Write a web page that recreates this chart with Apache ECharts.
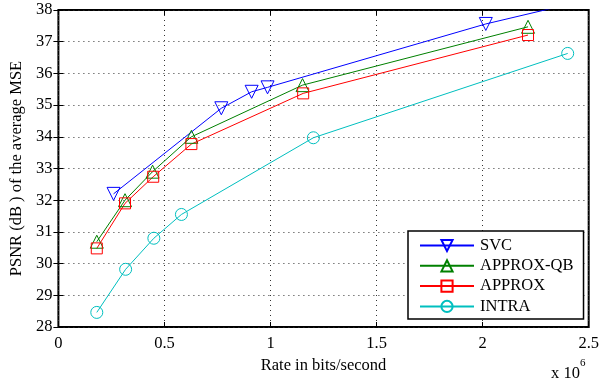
<!DOCTYPE html>
<html>
<head>
<meta charset="utf-8">
<script src="https://cdn.jsdelivr.net/npm/echarts@6/dist/echarts.min.js"></script>
<style>html,body{margin:0;padding:0;background:#fff}#c{width:602px;height:381px}</style>
</head>
<body>
<div id="c"></div>
<script>
const seriesNames = ['SVC', 'APPROX-QB', 'APPROX', 'INTRA'];
const svcX = [0.26e6, 0.768e6, 0.911e6, 0.986e6, 2.015e6, 2.4e6];
const svcY = [32.2, 34.9, 35.42, 35.56, 37.56, 38.17];
const qbX = [0.181e6, 0.314e6, 0.444e6, 0.627e6, 1.151e6, 2.214e6];
const qbY = [30.69, 32.0, 32.9, 34.0, 35.63, 37.47];
const apX = [0.181e6, 0.314e6, 0.447e6, 0.627e6, 1.154e6, 2.214e6];
const apY = [30.48, 31.9, 32.74, 33.77, 35.37, 37.21];
const inX = [0.181e6, 0.317e6, 0.45e6, 0.58e6, 1.202e6, 2.401e6];
const inY = [28.46, 29.82, 30.8, 31.55, 33.97, 36.63];
const xTicks = [0, 0.5, 1, 1.5, 2, 2.5];
const yTicks = [28, 29, 30, 31, 32, 33, 34, 35, 36, 37, 38];

const font = 'Liberation Serif';
const fs = 16.5;
const chart = echarts.init(document.getElementById('c'), null, {renderer: 'canvas'});
const zip = (xs, ys) => xs.map((x, i) => [x, ys[i]]);
function mk(name, xs, ys, color, symbol, size, rotate) {
  return {
    name, type: 'line', data: zip(xs, ys), symbol, symbolSize: size, symbolRotate: rotate || 0,
    clip: true, showAllSymbol: true,
    lineStyle: {color, width: 1},
    itemStyle: {color: 'rgba(255,255,255,0)', borderColor: color, borderWidth: 1},
    emphasis: {disabled: true}, animation: false
  };
}
const gridLine = {show: true, lineStyle: {color: '#333', type: [1, 4], width: 1}};
chart.setOption({
  animation: false,
  backgroundColor: '#fff',
  grid: {left: 58, right: 11, top: 10, bottom: 54, show: true, borderColor: '#000', borderWidth: 2, backgroundColor: 'transparent'},
  xAxis: [{
    type: 'value', min: 0, max: 2.5e6, interval: 0.5e6,
    axisLine: {show: false}, axisTick: {show: true, inside: true, length: 5, lineStyle: {color: '#000'}},
    axisLabel: {color: '#000', fontFamily: font, fontSize: fs, margin: 8,
      formatter: v => String(xTicks[Math.round(v / 0.5e6)])},
    splitLine: gridLine,
    name: 'Rate in bits/second', nameLocation: 'middle', nameGap: 30,
    nameTextStyle: {color: '#000', fontFamily: font, fontSize: fs}
  }, {
    type: 'value', position: 'top', min: 0, max: 2.5e6, interval: 0.5e6,
    axisLine: {show: false}, axisTick: {show: true, inside: true, length: 5, lineStyle: {color: '#000'}},
    axisLabel: {show: false}, splitLine: {show: false}
  }],
  yAxis: [{
    type: 'value', min: 28, max: 38, interval: 1,
    axisLine: {show: false}, axisTick: {show: true, inside: true, length: 5, lineStyle: {color: '#000'}},
    axisLabel: {color: '#000', fontFamily: font, fontSize: fs, margin: 6,
      formatter: v => String(yTicks[Math.round(v - 28)])},
    splitLine: gridLine,
    name: 'PSNR (dB ) of the average MSE', nameLocation: 'middle', nameGap: 31, nameRotate: 90,
    nameTextStyle: {color: '#000', fontFamily: font, fontSize: fs}
  }, {
    type: 'value', position: 'right', min: 28, max: 38, interval: 1,
    axisLine: {show: false}, axisTick: {show: true, inside: true, length: 5, lineStyle: {color: '#000'}},
    axisLabel: {show: false}, splitLine: {show: false}
  }],
  legend: {
    data: seriesNames, orient: 'vertical', left: 408, top: 231,
    padding: [6, 10, 4, 11], itemGap: 3.3, itemWidth: 54, itemHeight: 14,
    backgroundColor: '#fff', borderColor: '#000', borderWidth: 1.5,
    textStyle: {color: '#000', fontFamily: font, fontSize: fs, padding: [0, 0, 0, 1]}
  },
  graphic: [{
    type: 'text', left: 551, top: 358,
    style: {text: '{a|x 10}{b|6}', rich: {a: {fontFamily: font, fontSize: fs, fill: '#000', padding: [7, 0, 0, 0]}, b: {fontFamily: font, fontSize: 11, fill: '#000', verticalAlign: 'top'}}}
  }],
  series: [
    mk('SVC', svcX, svcY, '#0000ff', 'triangle', 13, 180),
    mk('APPROX-QB', qbX, qbY, '#008000', 'triangle', 13, 0),
    mk('APPROX', apX, apY, '#ff0000', 'rect', 11, 0),
    mk('INTRA', inX, inY, '#00bfbf', 'circle', 12, 0)
  ]
});
</script>
</body>
</html>
